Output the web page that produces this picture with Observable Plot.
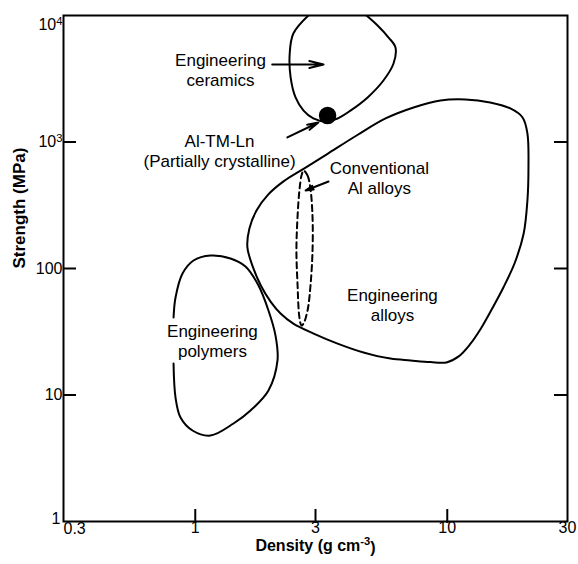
<!DOCTYPE html>
<html>
<head>
<meta charset="utf-8">
<script src="https://cdn.jsdelivr.net/npm/d3@7"></script>
<script src="https://cdn.jsdelivr.net/npm/@observablehq/plot@0.6"></script>
<style>
  html, body { margin: 0; padding: 0; background: #fff; }
  #chart { width: 578px; height: 564px; }
</style>
</head>
<body>
<div id="chart"></div>
<script>
// ---- Data (density in g cm^-3, strength in MPa) ----
const ceramicsDensity  = [2.81, 2.45, 2.37, 2.39, 2.50, 2.69, 2.94, 3.29, 3.67, 4.13, 4.83, 5.58, 6.12, 6.23, 5.85, 5.29, 4.78];
const ceramicsStrength = [10000, 7210, 5010, 3240, 2250, 1770, 1535, 1452, 1535, 1770, 2250, 3064, 4176, 5589, 6700, 8340, 10000];

const alloysDensity  = [2.24, 2.69, 3.35, 4.40, 5.69, 7.35, 9.40, 11.8, 14.8, 17.8, 19.9, 20.8, 21.0, 20.8, 20.1, 18.5, 16.7, 15.0, 13.6, 12.3, 11.1, 9.93, 8.58, 7.15, 5.95, 4.65, 3.67, 2.95, 2.45, 2.18, 1.99, 1.82, 1.69, 1.61, 1.64, 1.75, 1.95];
const alloysStrength = [488, 613, 807, 1136, 1535, 1875, 2128, 2168, 2052, 1841, 1563, 1167, 629, 345, 189, 110, 70.8, 47.4, 33.6, 25.1, 20.2, 18.1, 18.2, 18.75, 19.4, 21.7, 25.5, 30.6, 36.7, 44.1, 54.8, 73.4, 104, 147, 207, 287, 385];

const polymersDensity  = [0.820, 0.835, 0.890, 0.984, 1.149, 1.380, 1.582, 1.782, 1.952, 2.082, 2.120, 1.952, 1.657, 1.418, 1.149, 0.975, 0.874, 0.835, 0.820];
const polymersStrength = [41.0, 59.0, 91.3, 115.7, 126.7, 120, 103.7, 73.4, 46.6, 29.5, 18.75, 10.85, 7.54, 5.95, 4.78, 5.24, 6.64, 9.55, 17.74];

const alAlloysDensity  = [2.69, 2.79, 2.87, 2.92, 2.92, 2.87, 2.79, 2.69, 2.64, 2.59, 2.545, 2.52, 2.545, 2.59, 2.64];
const alAlloysStrength = [595, 543, 414, 253, 139, 76, 46.6, 36.7, 35.4, 41, 76, 139, 253, 414, 543];

const altmlnDensity  = [3.35];
const altmlnStrength = [1620];

const arrowFromDensity  = [2.02, 2.32, 3.38];
const arrowFromStrength = [4100, 1086, 487];
const arrowToDensity    = [3.23, 3.08, 2.74];
const arrowToStrength   = [4100, 1426, 414];

const labelText     = ["Engineering\nceramics", "Al-TM-Ln\n(Partially crystalline)", "Conventional\nAl alloys", "Engineering\nalloys", "Engineering\npolymers"];
const labelDensity  = [1.259, 1.248, 5.38, 6.06, 1.170];
const labelStrength = [3707, 857, 524, 51.9, 27.0];

const xTickValues = [1, 3, 10];
const xLabelValues = [1, 3, 10, 30];
const xLabelText = ["1", "3", "10", "30"];
const xCornerValue = [0.3];
const xCornerText = ["0.3"];

const yTickValues = [10, 100, 1000];
const yLabelText = ["10", "100", "10^3"];
const yTopValue = [10000];
const yTopText = ["10^4"];
const yBottomValue = [1];
const yBottomText = ["1"];

const xTitle = "Density (g cm^-3)";
const yTitle = "Strength (MPa)";

// ---- Build tables ----
const pts = (xs, ys) => xs.map((x, i) => ({x, y: ys[i]}));
const ceramics = pts(ceramicsDensity, ceramicsStrength);
const alloys = pts(alloysDensity, alloysStrength);
const polymers = pts(polymersDensity, polymersStrength);
const alAlloys = pts(alAlloysDensity, alAlloysStrength);
const altmln = pts(altmlnDensity, altmlnStrength);
const arrows = arrowFromDensity.map((d, i) => ({x1: d, y1: arrowFromStrength[i], x2: arrowToDensity[i], y2: arrowToStrength[i]}));
const labels = labelText.map((t, i) => ({text: t, x: labelDensity[i], y: labelStrength[i]}));
const xLabels = xLabelValues.map((v, i) => ({v, t: xLabelText[i]}));
const yLabels = yTickValues.map((v, i) => ({v, t: yLabelText[i]}));

const W = 578, H = 564, ML = 63, MR = 11, MT = 15, MB = 43;
const PW = W - ML - MR, PH = H - MT - MB;

const chart = Plot.plot({
  width: W,
  height: H,
  marginLeft: ML,
  marginRight: MR,
  marginTop: MT,
  marginBottom: MB,
  x: {type: "log", domain: [0.3, 30], axis: null},
  y: {type: "log", domain: [1, 10000], axis: null},
  style: {fontFamily: "'Liberation Sans', Arial, Helvetica, sans-serif", background: "#fff", color: "#000"},
  marks: [
    Plot.line(alloys, {x: "x", y: "y", curve: "catmull-rom-closed", stroke: "#000", strokeWidth: 2, clip: true}),
    Plot.line(ceramics, {x: "x", y: "y", curve: "catmull-rom", stroke: "#000", strokeWidth: 2, clip: true}),
    Plot.line(polymers, {x: "x", y: "y", curve: "catmull-rom", stroke: "#000", strokeWidth: 2, clip: true}),
    Plot.line(alAlloys, {x: "x", y: "y", curve: "catmull-rom-closed", stroke: "#000", strokeWidth: 2, strokeDasharray: "6,4", clip: true}),
    Plot.dot(altmln, {x: "x", y: "y", r: 8, fill: "#000", stroke: "#000"}),
    Plot.arrow(arrows, {x1: "x1", y1: "y1", x2: "x2", y2: "y2", stroke: "#000", strokeWidth: 2, headLength: 11, headAngle: 28}),
    Plot.text(labels, {x: "x", y: "y", text: "text", fontSize: 17, lineHeight: 1.18, fill: "#000"}),
    // frame
    Plot.frame({stroke: "#000", strokeWidth: 2}),
    // inward ticks
    Plot.tickY(yTickValues, {y: d => d, insetRight: PW - 13, stroke: "#000", strokeWidth: 2}),
    Plot.tickY(yTickValues, {y: d => d, insetLeft: PW - 13, stroke: "#000", strokeWidth: 2}),
    Plot.tickX(xTickValues, {x: d => d, insetTop: PH - 12, insetBottom: -2, stroke: "#000", strokeWidth: 2}),
    // tick labels
    Plot.text(yLabels, {y: "v", text: "t", frameAnchor: "left", textAnchor: "end", dx: -1, fontSize: 16}),
    Plot.text(yTopValue, {y: d => d, text: (d, i) => yTopText[i], frameAnchor: "left", textAnchor: "end", dx: -1, dy: 9, fontSize: 16}),
    Plot.text(yBottomValue, {y: d => d, text: (d, i) => yBottomText[i], frameAnchor: "left", textAnchor: "end", dx: -3, dy: -3, fontSize: 16}),
    Plot.text(xLabels, {x: "v", text: "t", frameAnchor: "bottom", lineAnchor: "top", dy: 0, fontSize: 16}),
    Plot.text(xCornerValue, {x: d => d, text: (d, i) => xCornerText[i], frameAnchor: "bottom", lineAnchor: "top", textAnchor: "start", dy: 1, fontSize: 16}),
    // axis titles
    Plot.text([yTitle], {text: d => d, frameAnchor: "left", dx: -44, rotate: -90, fontSize: 17, fontWeight: "bold"}),
    Plot.text([xTitle], {text: d => d, frameAnchor: "bottom", dy: 29, fontSize: 16, fontWeight: "bold"})
  ]
});

// superscripts written as "^n" become real superscript tspans
d3.select(chart).selectAll("text").each(function () {
  if (this.querySelector("tspan")) return;
  const m = this.textContent.match(/^(.*)\^(-?\d+)(.*)$/);
  if (!m) return;
  const sel = d3.select(this);
  sel.text(null);
  sel.append("tspan").text(m[1]);
  sel.append("tspan").attr("dy", "-0.45em").attr("font-size", "70%").text(m[2]);
  if (m[3]) sel.append("tspan").attr("dy", "0.45em").text(m[3]);
});

document.getElementById("chart").appendChild(chart);
</script>
</body>
</html>
